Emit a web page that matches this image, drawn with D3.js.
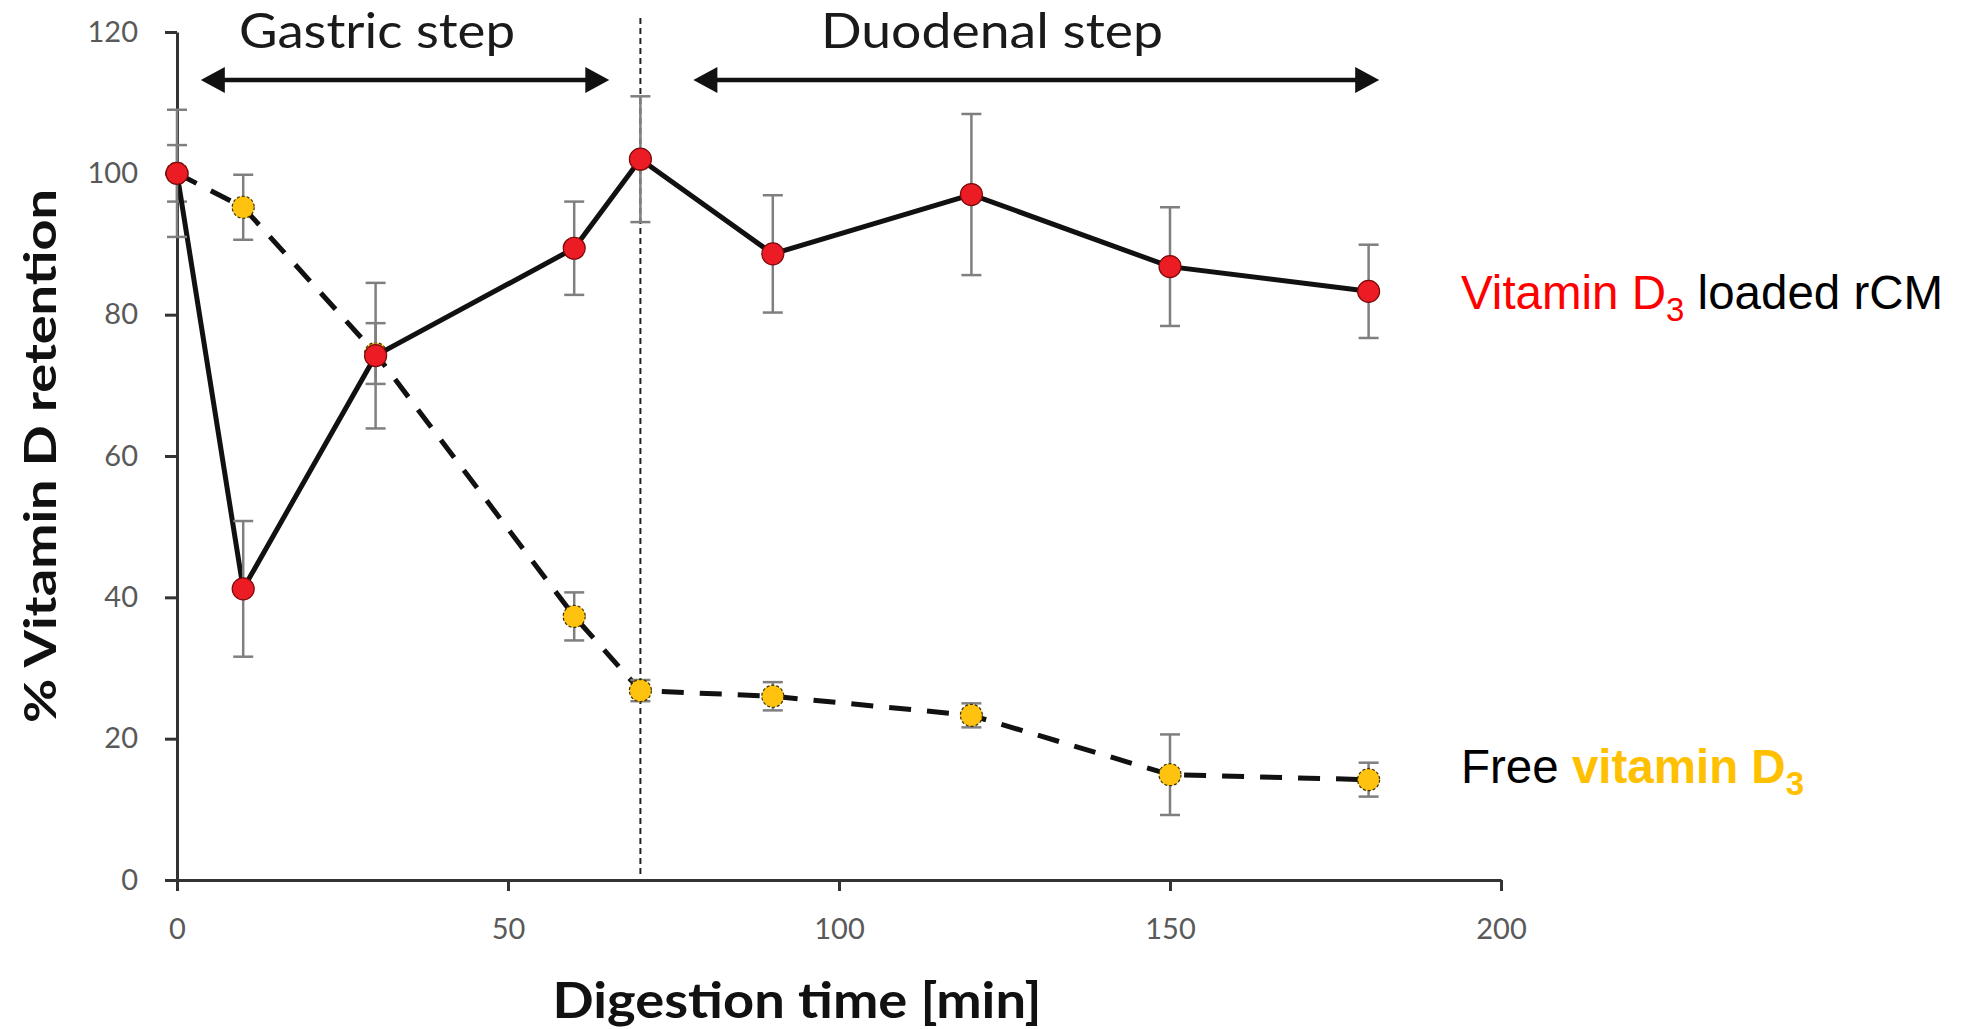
<!DOCTYPE html>
<html>
<head>
<meta charset="utf-8">
<script src="https://cdn.jsdelivr.net/npm/d3@7"></script>
<style>
  body { margin: 0; background: #fff; }
  .tick text { font-family: Lato, "Open Sans", sans-serif; fill: #595959; }
</style>
</head>
<body>
<div id="chart"></div>
<script>
// Sampling times (min)
var times = [0, 10, 30, 60, 70, 90, 120, 150, 180];

// Vitamin D3 loaded rCM (mean, sd)
var rcmValues = [100, 41.2, 74.2, 89.4, 102, 88.6, 97, 86.8, 83.3];
var rcmErrors = [9, 9.6, 10.3, 6.6, 8.9, 8.3, 11.4, 8.4, 6.6];

// Free vitamin D3 (mean, sd)
var freeValues = [100, 95.2, 74.5, 37.3, 26.8, 26, 23.3, 14.9, 14.2];
var freeErrors = [4, 4.6, 4.3, 3.4, 1.5, 2, 1.7, 5.7, 2.4];

// Axis ticks
var xTicks = [0, 50, 100, 150, 200];
var yTicks = [0, 20, 40, 60, 80, 100, 120];

// Digestion steps (start / end time of the arrows)
var stepLabels = ["Gastric step", "Duodenal step"];
var stepStarts = [3.6, 78];
var stepEnds = [65.3, 181.6];
var dividerTime = 70;

// Canvas
var W = 1971, H = 1029;
var margin = {top: 32, left: 177, right: 470, bottom: 149};

var x = d3.scaleLinear().domain([0, 200]).range([margin.left, W - margin.right]);
var y = d3.scaleLinear().domain([0, 120]).range([H - margin.bottom, margin.top]);

var svg = d3.select("#chart").append("svg")
    .attr("width", W)
    .attr("height", H)
    .style("display", "block");

svg.append("rect").attr("width", W).attr("height", H).attr("fill", "#fff");

// Dotted divider between gastric and duodenal steps
svg.append("line")
    .attr("x1", x(dividerTime)).attr("x2", x(dividerTime))
    .attr("y1", y(0) - 6).attr("y2", margin.top - 15)
    .attr("stroke", "#222")
    .attr("stroke-width", 2)
    .attr("stroke-dasharray", "6,4");

// Axes
var xAxis = svg.append("g")
    .attr("transform", "translate(0," + y(0) + ")")
    .call(d3.axisBottom(x).tickValues(xTicks).tickSize(11).tickSizeOuter(0).tickPadding(27));

var yAxis = svg.append("g")
    .attr("transform", "translate(" + x(0) + ",0)")
    .call(d3.axisLeft(y).tickValues(yTicks).tickSize(12).tickSizeOuter(0).tickPadding(27));

[xAxis, yAxis].forEach(function(g) {
    g.selectAll("path.domain").attr("stroke", "#333").attr("stroke-width", 3);
    g.selectAll(".tick line").attr("stroke", "#333").attr("stroke-width", 3);
    g.selectAll(".tick text").style("font-size", "29px");
});

// Series
var series = [
    {values: freeValues, errors: freeErrors, dash: "22,16", fill: "#ffc20e", outline: "#3a3000"},
    {values: rcmValues, errors: rcmErrors, dash: null, fill: "#ec1c24", outline: "#7a0b0b"}
];

var line = d3.line()
    .x(function(d) { return x(d.t); })
    .y(function(d) { return y(d.v); });

series.forEach(function(s) {
    var pts = times.map(function(t, i) { return {t: t, v: s.values[i], e: s.errors[i]}; });

    svg.append("path")
        .datum(pts)
        .attr("d", line)
        .attr("fill", "none")
        .attr("stroke", "#111")
        .attr("stroke-width", 5)
        .attr("stroke-dasharray", s.dash);

    var eb = svg.append("g").attr("stroke", "#7f7f7f").attr("stroke-width", 2.5);

    eb.selectAll("line.bar").data(pts).enter().append("line")
        .attr("x1", function(d) { return x(d.t); })
        .attr("x2", function(d) { return x(d.t); })
        .attr("y1", function(d) { return y(d.v + d.e); })
        .attr("y2", function(d) { return y(d.v - d.e); });

    [1, -1].forEach(function(sign) {
        eb.selectAll(null).data(pts).enter().append("line")
            .attr("x1", function(d) { return x(d.t) - 10; })
            .attr("x2", function(d) { return x(d.t) + 10; })
            .attr("y1", function(d) { return y(d.v + sign * d.e); })
            .attr("y2", function(d) { return y(d.v + sign * d.e); });
    });

    svg.selectAll(null).data(pts).enter().append("circle")
        .attr("cx", function(d) { return x(d.t); })
        .attr("cy", function(d) { return y(d.v); })
        .attr("r", 11)
        .attr("fill", s.fill)
        .attr("stroke", s.outline)
        .attr("stroke-width", 1.2)
        .attr("stroke-dasharray", s.dash ? "3,2" : null);
});

// Step arrows and labels
var arrowY = y(113.2);
var labelWidths = [276, 342];
var labelCenters = [377, 992];
stepLabels.forEach(function(label, i) {
    var x1 = x(stepStarts[i]), x2 = x(stepEnds[i]);
    var g = svg.append("g").attr("fill", "#111").attr("stroke", "#111");

    g.append("line")
        .attr("x1", x1 + 10).attr("x2", x2 - 10)
        .attr("y1", arrowY).attr("y2", arrowY)
        .attr("stroke-width", 4.5);
    g.append("path")
        .attr("stroke", "none")
        .attr("d", "M" + x1 + "," + arrowY + "l24,-13l0,26z");
    g.append("path")
        .attr("stroke", "none")
        .attr("d", "M" + x2 + "," + arrowY + "l-24,-13l0,26z");

    svg.append("text")
        .attr("x", labelCenters[i])
        .attr("y", arrowY - 32)
        .attr("text-anchor", "middle")
        .attr("textLength", labelWidths[i])
        .attr("lengthAdjust", "spacingAndGlyphs")
        .style("font-family", "Lato, 'Open Sans', sans-serif")
        .style("font-size", "48px")
        .style("fill", "#1a1a1a")
        .text(label);
});

// Axis titles
svg.append("text")
    .attr("x", (x(0) + x(200)) / 2 - 42)
    .attr("y", y(0) + 138)
    .attr("text-anchor", "middle")
    .attr("textLength", 489)
    .attr("lengthAdjust", "spacingAndGlyphs")
    .style("font-family", "Lato, 'Open Sans', sans-serif")
    .style("font-weight", 700)
    .style("font-size", "50px")
    .style("fill", "#111")
    .text("Digestion time [min]");

svg.append("text")
    .attr("transform", "translate(56," + ((y(0) + y(120)) / 2 - 0) + ") rotate(-90)")
    .attr("text-anchor", "middle")
    .attr("textLength", 534)
    .attr("lengthAdjust", "spacingAndGlyphs")
    .style("font-family", "Lato, 'Open Sans', sans-serif")
    .style("font-weight", 700)
    .style("font-size", "44px")
    .style("fill", "#111")
    .text("% Vitamin D retention");

// Series labels
var labelFont = "'Liberation Sans', Arial, sans-serif";
var lastRcm = y(rcmValues[rcmValues.length - 1]);
var lastFree = y(freeValues[freeValues.length - 1]);

var t1 = svg.append("text")
    .attr("x", 1461).attr("y", lastRcm + 18)
    .style("font-family", labelFont)
    .style("font-size", "47.5px");
t1.append("tspan").attr("fill", "#ff0000").text("Vitamin D");
t1.append("tspan").attr("fill", "#ff0000").attr("dy", 12).style("font-size", "33px").text("3");
t1.append("tspan").attr("fill", "#000").attr("dy", -12).text(" loaded rCM");

var t2 = svg.append("text")
    .attr("x", 1461).attr("y", lastFree + 3)
    .style("font-family", labelFont)
    .style("font-size", "47.5px");
t2.append("tspan").attr("fill", "#000").text("Free ");
t2.append("tspan").attr("fill", "#ffc000").style("font-weight", 700).text("vitamin D");
t2.append("tspan").attr("fill", "#ffc000").style("font-weight", 700).attr("dy", 12).style("font-size", "33px").text("3");
</script>
</body>
</html>
